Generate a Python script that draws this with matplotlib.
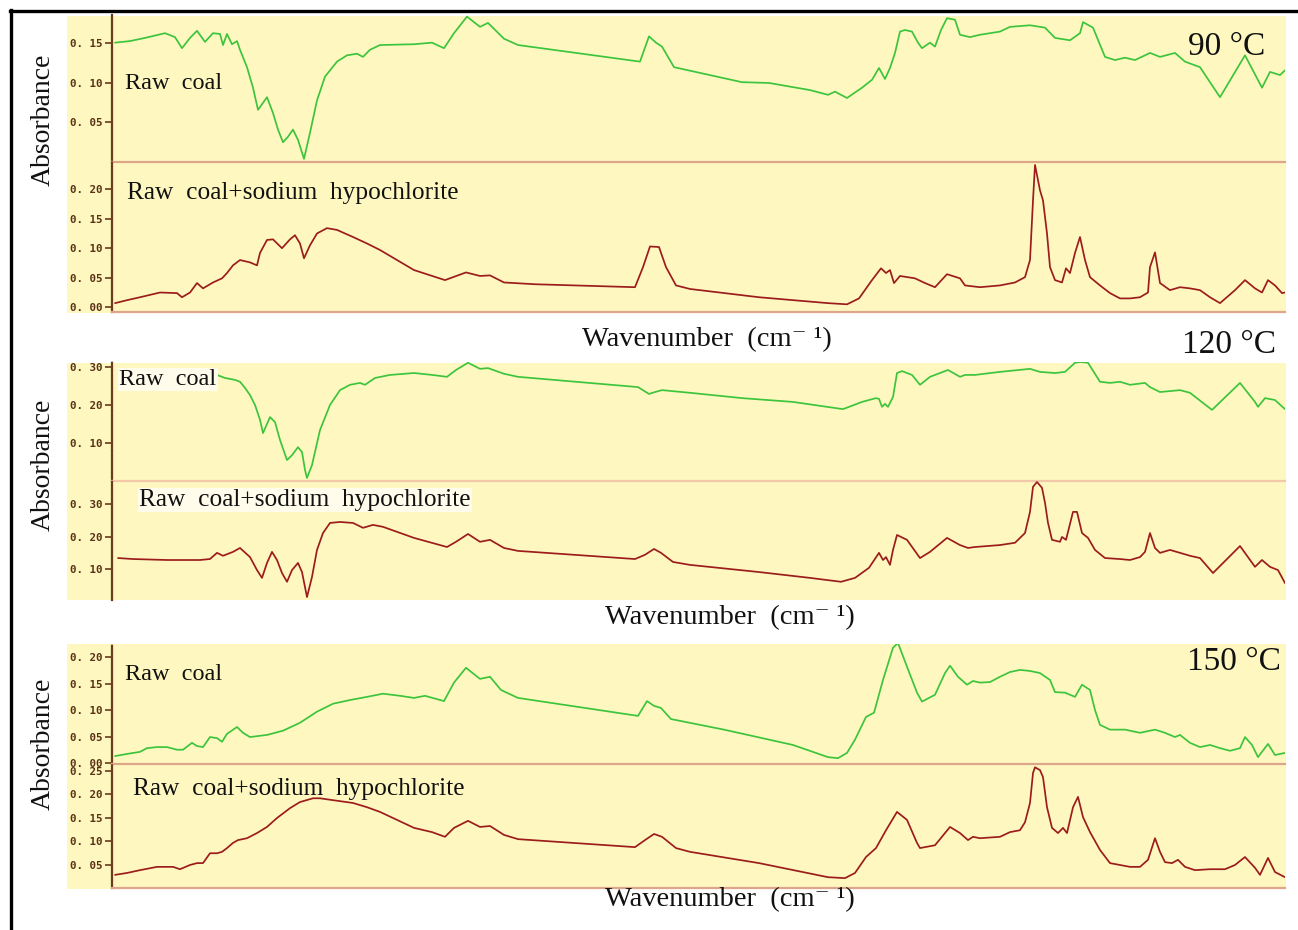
import matplotlib
matplotlib.use("Agg")
import matplotlib.pyplot as plt
from matplotlib.patches import Rectangle
from matplotlib.lines import Line2D
from matplotlib.ticker import FixedLocator, FuncFormatter

# ---------------- data (wavenumber cm-1, absorbance) ----------------
wn_90_raw = [3991, 3946, 3901, 3841, 3811, 3790, 3766, 3745, 3721, 3697, 3676, 3667, 3655, 3640, 3625,
             3616, 3595, 3577, 3562, 3535, 3517, 3502, 3487, 3472, 3457, 3442, 3424, 3406, 3385, 3361,
             3325, 3295, 3265, 3247, 3226, 3196, 3094, 3040, 3004, 2974, 2935, 2896, 2872, 2824, 2782,
             2416, 2389, 2368, 2350, 2314, 2110, 2029, 1906, 1852, 1831, 1795, 1750, 1720, 1699, 1681,
             1666, 1651, 1636, 1621, 1600, 1582, 1570, 1546, 1531, 1513, 1495, 1471, 1456, 1426, 1396,
             1336, 1306, 1246, 1201, 1171, 1126, 1096, 1087, 1057, 1021, 991, 961, 931, 886, 856, 811,
             781, 736, 676, 601, 550, 526, 496, 481]
abs_90_raw = [0.151, 0.153, 0.157, 0.163, 0.158, 0.144, 0.157, 0.166, 0.152, 0.163, 0.162, 0.148, 0.162, 0.149, 0.153,
              0.142, 0.120, 0.094, 0.066, 0.082, 0.062, 0.041, 0.025, 0.032, 0.041, 0.028, 0.004, 0.037, 0.078, 0.108,
              0.127, 0.135, 0.137, 0.133, 0.142, 0.148, 0.149, 0.151, 0.144, 0.163, 0.184, 0.171, 0.176, 0.156, 0.148,
              0.127, 0.159, 0.151, 0.146, 0.120, 0.101, 0.100, 0.091, 0.085, 0.089, 0.081, 0.094, 0.104, 0.119, 0.105,
              0.119, 0.138, 0.165, 0.167, 0.165, 0.151, 0.144, 0.151, 0.146, 0.167, 0.182, 0.180, 0.161, 0.158, 0.161,
              0.165, 0.171, 0.173, 0.170, 0.157, 0.154, 0.163, 0.177, 0.170, 0.133, 0.129, 0.132, 0.129, 0.138, 0.133, 0.138,
              0.127, 0.120, 0.082, 0.135, 0.094, 0.114, 0.110, 0.116]

wn_90_naclo = [3991, 3955, 3916, 3856, 3805, 3790, 3766, 3745, 3727, 3697, 3670, 3655, 3637, 3616, 3586,
               3565, 3556, 3535, 3517, 3490, 3466, 3451, 3436, 3424, 3406, 3385, 3355, 3325, 3277, 3235,
               3196, 3094, 3001, 2938, 2896, 2866, 2824, 2731, 2431, 2407, 2386, 2359, 2338, 2308, 2266,
               2059, 1852, 1795, 1759, 1720, 1693, 1678, 1666, 1654, 1636, 1591, 1561, 1531, 1495, 1456,
               1441, 1396, 1336, 1291, 1261, 1246, 1237, 1231, 1216, 1207, 1195, 1186, 1171, 1150, 1138,
               1126, 1111, 1096, 1081, 1066, 1036, 1006, 976, 946, 916, 892, 886, 871, 856, 826, 796,
               766, 736, 706, 676, 631, 601, 571, 550, 532, 511, 490, 481]
abs_90_naclo = [0.007, 0.012, 0.017, 0.025, 0.024, 0.017, 0.025, 0.041, 0.032, 0.042, 0.049, 0.058, 0.071, 0.080, 0.076,
                0.071, 0.092, 0.114, 0.115, 0.100, 0.115, 0.122, 0.108, 0.083, 0.105, 0.125, 0.134, 0.131, 0.119, 0.108,
                0.097, 0.063, 0.046, 0.059, 0.053, 0.054, 0.042, 0.039, 0.034, 0.068, 0.103, 0.102, 0.068, 0.037, 0.031,
                0.017, 0.007, 0.005, 0.015, 0.046, 0.066, 0.058, 0.063, 0.041, 0.053, 0.049, 0.041, 0.034, 0.056, 0.049,
                0.037, 0.034, 0.037, 0.042, 0.051, 0.080, 0.181, 0.241, 0.198, 0.181, 0.125, 0.068, 0.046, 0.042, 0.066,
                0.058, 0.092, 0.119, 0.080, 0.051, 0.037, 0.024, 0.015, 0.015, 0.017, 0.025, 0.068, 0.093, 0.041, 0.029, 0.034,
                0.032, 0.029, 0.017, 0.007, 0.029, 0.046, 0.032, 0.025, 0.046, 0.037, 0.024, 0.025]

wn_120_raw = [3850, 3796, 3736, 3685, 3661, 3631, 3616, 3601, 3586, 3571, 3556, 3547, 3526, 3511, 3496,
              3475, 3460, 3442, 3430, 3421, 3415, 3400, 3376, 3346, 3316, 3286, 3256, 3241, 3211, 3166,
              3094, 3040, 2995, 2968, 2932, 2896, 2872, 2824, 2782, 2422, 2389, 2371, 2350, 2266, 2110,
              1957, 1807, 1750, 1708, 1699, 1690, 1681, 1672, 1657, 1645, 1630, 1600, 1576, 1546, 1492,
              1456, 1441, 1411, 1336, 1246, 1216, 1171, 1141, 1111, 1096, 1072, 1036, 1006, 976, 946,
              901, 886, 856, 796, 766, 700, 616, 571, 562, 541, 511, 481]
abs_120_raw = [0.295, 0.289, 0.284, 0.279, 0.271, 0.266, 0.261, 0.245, 0.226, 0.200, 0.161, 0.126, 0.168, 0.155, 0.108,
               0.055, 0.068, 0.089, 0.076, 0.029, 0.008, 0.042, 0.134, 0.200, 0.239, 0.253, 0.258, 0.253, 0.271, 0.279,
               0.284, 0.279, 0.274, 0.292, 0.311, 0.295, 0.297, 0.282, 0.274, 0.247, 0.229, 0.234, 0.239, 0.232, 0.218,
               0.208, 0.189, 0.208, 0.218, 0.216, 0.195, 0.203, 0.195, 0.221, 0.284, 0.289, 0.279, 0.253, 0.274, 0.292,
               0.274, 0.279, 0.279, 0.287, 0.295, 0.287, 0.284, 0.287, 0.311, 0.313, 0.311, 0.261, 0.258, 0.261, 0.253,
               0.258, 0.247, 0.234, 0.239, 0.232, 0.187, 0.258, 0.208, 0.195, 0.218, 0.213, 0.189]

wn_120_naclo = [3982, 3937, 3835, 3736, 3706, 3685, 3667, 3637, 3616, 3586, 3565, 3550, 3535, 3520, 3505,
                3490, 3475, 3460, 3442, 3430, 3415, 3400, 3385, 3367, 3346, 3316, 3277, 3247, 3217, 3187,
                3094, 2995, 2968, 2932, 2896, 2866, 2824, 2782, 2431, 2401, 2374, 2353, 2317, 2266, 2059,
                1906, 1813, 1771, 1729, 1699, 1687, 1678, 1666, 1657, 1645, 1615, 1576, 1546, 1495, 1456,
                1432, 1411, 1336, 1291, 1261, 1246, 1237, 1225, 1210, 1201, 1192, 1180, 1156, 1150, 1138,
                1117, 1105, 1090, 1072, 1051, 1021, 976, 946, 916, 901, 886, 871, 856, 826, 796, 766,
                736, 697, 616, 571, 550, 526, 502, 481]
abs_120_naclo = [0.135, 0.132, 0.129, 0.129, 0.132, 0.151, 0.142, 0.154, 0.166, 0.138, 0.098, 0.074, 0.120, 0.154, 0.129,
                 0.089, 0.062, 0.098, 0.120, 0.092, 0.015, 0.077, 0.160, 0.212, 0.243, 0.246, 0.243, 0.228, 0.237, 0.231,
                 0.197, 0.169, 0.185, 0.209, 0.185, 0.191, 0.166, 0.157, 0.132, 0.145, 0.163, 0.151, 0.123, 0.114, 0.092,
                 0.074, 0.062, 0.074, 0.105, 0.151, 0.129, 0.138, 0.114, 0.160, 0.206, 0.191, 0.135, 0.154, 0.197, 0.175,
                 0.166, 0.169, 0.175, 0.182, 0.212, 0.277, 0.354, 0.369, 0.351, 0.305, 0.243, 0.191, 0.185, 0.200, 0.191,
                 0.277, 0.277, 0.212, 0.197, 0.160, 0.135, 0.132, 0.129, 0.138, 0.154, 0.212, 0.166, 0.151, 0.160, 0.151, 0.142,
                 0.135, 0.089, 0.172, 0.108, 0.129, 0.108, 0.098, 0.058]

wn_150_raw = [3991, 3955, 3916, 3895, 3865, 3835, 3805, 3787, 3760, 3745, 3727, 3706, 3685, 3670, 3655,
              3625, 3607, 3586, 3535, 3487, 3436, 3385, 3337, 3286, 3235, 3187, 3136, 3094, 3061, 3004,
              2974, 2938, 2896, 2866, 2833, 2782, 2422, 2395, 2374, 2353, 2323, 2164, 1957, 1852, 1822,
              1795, 1771, 1738, 1714, 1687, 1657, 1642, 1615, 1585, 1570, 1531, 1501, 1486, 1462, 1435,
              1417, 1396, 1366, 1336, 1306, 1276, 1246, 1216, 1186, 1171, 1141, 1111, 1090, 1066, 1051,
              1036, 1006, 961, 916, 871, 841, 811, 796, 766, 736, 706, 676, 646, 616, 601, 580, 562,
              532, 511, 481]
abs_150_raw = [0.013, 0.017, 0.021, 0.028, 0.030, 0.030, 0.025, 0.025, 0.038, 0.032, 0.030, 0.049, 0.047, 0.040, 0.055,
               0.068, 0.057, 0.049, 0.053, 0.061, 0.076, 0.097, 0.112, 0.119, 0.125, 0.131, 0.127, 0.123, 0.127, 0.117,
               0.152, 0.180, 0.159, 0.163, 0.138, 0.123, 0.089, 0.117, 0.108, 0.104, 0.083, 0.063, 0.034, 0.011, 0.009,
               0.019, 0.044, 0.087, 0.095, 0.157, 0.218, 0.227, 0.182, 0.133, 0.116, 0.129, 0.170, 0.184, 0.163, 0.148,
               0.155, 0.152, 0.153, 0.163, 0.172, 0.176, 0.174, 0.170, 0.157, 0.134, 0.133, 0.125, 0.148, 0.138, 0.100,
               0.072, 0.063, 0.063, 0.057, 0.063, 0.057, 0.049, 0.053, 0.038, 0.030, 0.034, 0.028, 0.023, 0.028, 0.049, 0.034, 0.011,
               0.036, 0.015, 0.019]

wn_150_naclo = [3991, 3955, 3916, 3865, 3817, 3796, 3766, 3745, 3727, 3706, 3685, 3670, 3655, 3637, 3622,
                3595, 3565, 3535, 3505, 3466, 3436, 3397, 3376, 3337, 3277, 3235, 3196, 3145, 3094, 3040,
                3001, 2974, 2932, 2896, 2866, 2824, 2782, 2431, 2401, 2374, 2350, 2308, 2266, 2059, 1852,
                1801, 1771, 1738, 1708, 1678, 1645, 1615, 1585, 1576, 1531, 1486, 1456, 1432, 1417, 1396,
                1336, 1306, 1276, 1261, 1246, 1237, 1231, 1216, 1207, 1195, 1180, 1162, 1147, 1135, 1117,
                1102, 1087, 1066, 1036, 1006, 976, 946, 916, 892, 871, 856, 841, 820, 802, 781, 751,
                706, 661, 631, 601, 571, 556, 532, 511, 481]
abs_150_naclo = [0.028, 0.032, 0.038, 0.045, 0.045, 0.040, 0.049, 0.053, 0.053, 0.074, 0.074, 0.077, 0.085, 0.096, 0.102,
                 0.106, 0.117, 0.130, 0.149, 0.170, 0.183, 0.191, 0.191, 0.187, 0.181, 0.172, 0.162, 0.145, 0.128, 0.119,
                 0.109, 0.128, 0.143, 0.130, 0.132, 0.113, 0.104, 0.087, 0.102, 0.115, 0.109, 0.085, 0.077, 0.053, 0.023,
                 0.021, 0.032, 0.066, 0.085, 0.123, 0.162, 0.145, 0.096, 0.085, 0.091, 0.130, 0.117, 0.102, 0.109, 0.106,
                 0.109, 0.119, 0.123, 0.140, 0.181, 0.245, 0.257, 0.251, 0.236, 0.172, 0.128, 0.117, 0.128, 0.117, 0.172,
                 0.194, 0.151, 0.119, 0.081, 0.053, 0.049, 0.045, 0.045, 0.060, 0.106, 0.077, 0.055, 0.053, 0.060, 0.045, 0.038,
                 0.040, 0.040, 0.049, 0.066, 0.043, 0.028, 0.064, 0.034, 0.023]

temperatures = ["90 °C", "120 °C", "150 °C"]
label_raw = "Raw  coal"
label_naclo = "Raw  coal+sodium  hypochlorite"
xlabel_text = "Wavenumber  (cm\u207b \u00b9)"
ylabel_text = "Absorbance"

ticks_90_raw = [0.05, 0.10, 0.15]
ticks_90_naclo = [0.00, 0.05, 0.10, 0.15, 0.20]
ticks_120_raw = [0.10, 0.20, 0.30]
ticks_120_naclo = [0.10, 0.20, 0.30]
ticks_150_raw = [0.00, 0.05, 0.10, 0.15, 0.20]
ticks_150_naclo = [0.05, 0.10, 0.15, 0.20, 0.25]

# ---------------- styling ----------------
W, H = 1298, 930
fig = plt.figure(figsize=(W / 100, H / 100), dpi=100)
fig.patch.set_facecolor("white")

YELLOW = "#FEF8C0"
GREEN = "#3DC43D"
RED = "#9C1C1C"
AXBROWN = "#6B3B1E"
TICKBROWN = "#5A3216"
SEP = "#DDA58A"
SEP_LIGHT = "#F2C8A8"
SERIF = ["Liberation Serif", "DejaVu Serif"]


def fx(px):
    return px / W


def fy(py):
    return 1 - py / H


def add_axes_px(x0, y0, x1, y1):
    return fig.add_axes([fx(x0), fy(y1), fx(x1) - fx(x0), fy(y0) - fy(y1)])


def bg(x0, y0, x1, y1):
    fig.patches.append(Rectangle((fx(x0), fy(y1)), fx(x1) - fx(x0), fy(y0) - fy(y1),
                                 transform=fig.transFigure, facecolor=YELLOW,
                                 edgecolor="none", zorder=-5))


def fmt(v, pos):
    s = f"{v:.2f}"
    return s.replace(".", ". ")


def style(ax, ylim, ticks, bottom_line, bottom_color=SEP):
    ax.set_facecolor("none")
    ax.set_zorder(2)
    ax.set_xlim(4000, 481)
    ax.set_ylim(*ylim)
    for s in ["top", "right"]:
        ax.spines[s].set_visible(False)
    ax.spines["left"].set_color(AXBROWN)
    ax.spines["left"].set_linestyle((0, (1.2, 0.8)))
    ax.spines["left"].set_linewidth(1.6)
    if bottom_line:
        ax.spines["bottom"].set_color(bottom_color)
        ax.spines["bottom"].set_linewidth(1.6)
    else:
        ax.spines["bottom"].set_visible(False)
    ax.set_xticks([])
    ax.yaxis.set_major_locator(FixedLocator(ticks))
    ax.yaxis.set_major_formatter(FuncFormatter(fmt))
    ax.tick_params(axis="y", direction="out", length=5, width=1.2, color=AXBROWN,
                   labelsize=7.8, labelcolor=TICKBROWN, pad=2)
    for lab in ax.get_yticklabels():
        lab.set_fontfamily("DejaVu Sans Mono")
        lab.set_fontweight("bold")


panels = [
    dict(bg=(67, 16, 1286, 313), up=(112, 15, 1285, 162), lo=(112, 162, 1285, 312), sep=SEP),
    dict(bg=(67, 363, 1286, 600), up=(112, 362, 1285, 481), lo=(112, 481, 1285, 600), sep=SEP_LIGHT),
    dict(bg=(67, 644, 1286, 889), up=(112, 644, 1285, 764), lo=(112, 764, 1285, 888), sep=SEP),
]

series = [
    (wn_90_raw, abs_90_raw, wn_90_naclo, abs_90_naclo, (0, 0.186), (-0.008, 0.246),
     ticks_90_raw, ticks_90_naclo, True),
    (wn_120_raw, abs_120_raw, wn_120_naclo, abs_120_naclo, (0, 0.313), (0.006, 0.372),
     ticks_120_raw, ticks_120_naclo, False),
    (wn_150_raw, abs_150_raw, wn_150_naclo, abs_150_naclo, (-0.002, 0.225), (0.0, 0.264),
     ticks_150_raw, ticks_150_naclo, True),
]

for p, s in zip(panels, series):
    bg(*p["bg"])
    wr, ar, wn_, an, ylu, yll, tu, tl, lowline = s
    axu = add_axes_px(*p["up"])
    axl = add_axes_px(*p["lo"])
    style(axu, ylu, tu, True, p["sep"])
    style(axl, yll, tl, lowline, p["sep"])
    axu.plot(wr, ar, color=GREEN, lw=1.25, solid_joinstyle="round", solid_capstyle="round")
    axl.plot(wn_, an, color=RED, lw=1.25, solid_joinstyle="round", solid_capstyle="round")


# ---------------- texts ----------------
def ftext(px, py, txt, size, ha="left", va="baseline", rot=0, bbox=None):
    fig.text(fx(px), fy(py), txt, fontsize=size, family=SERIF, ha=ha, va=va,
             rotation=rot, color="#111111", bbox=bbox, zorder=10)


box = dict(facecolor="#FFFCEB", edgecolor="none", pad=1.0)

ftext(125, 89, label_raw, 17.5)
ftext(127, 199, label_naclo, 18.3)
ftext(119, 385, label_raw, 17.5, bbox=box)
ftext(139, 506, label_naclo, 18.3, bbox=box)
ftext(125, 680, label_raw, 17.5)
ftext(133, 795, label_naclo, 18.3)

ftext(1265, 55, temperatures[0], 24, ha="right")
ftext(1276, 353, temperatures[1], 24, ha="right")
ftext(1281, 670, temperatures[2], 24, ha="right")

for cy in (120, 465, 744):
    ftext(43, cy, ylabel_text, 20, ha="center", va="center", rot=90)

ftext(707, 340, xlabel_text, 20.5, ha="center", va="center")
ftext(730, 618, xlabel_text, 20.5, ha="center", va="center")
ftext(730, 900, xlabel_text, 20.5, ha="center", va="center")

# outer frame (left and top edges)
fig.lines.append(Line2D([fx(11), fx(11)], [fy(10), fy(935)], transform=fig.transFigure,
                        color="black", lw=2.4))
fig.lines.append(Line2D([fx(10), fx(1300)], [fy(11), fy(11)], transform=fig.transFigure,
                        color="black", lw=2.4))

fig.savefig("out.png", dpi=100)
